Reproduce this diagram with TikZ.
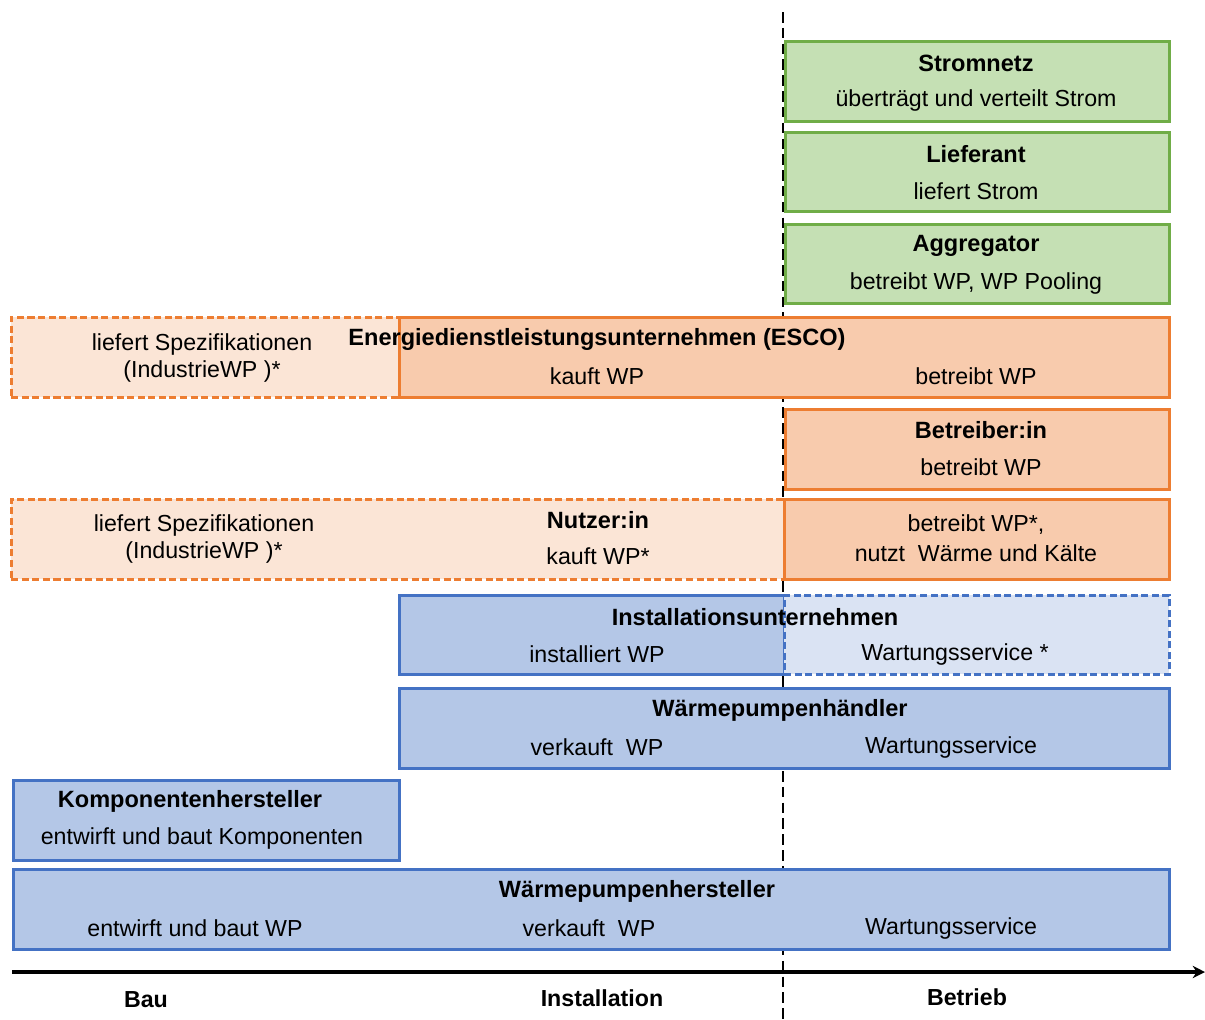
\documentclass[tikz,border=0pt]{standalone}
\usepackage{fontspec}
\setmainfont{Liberation Sans}
\usetikzlibrary{arrows.meta}
\definecolor{grF}{HTML}{C5E0B4}
\definecolor{grD}{HTML}{70AD47}
\definecolor{orF}{HTML}{F8CBAD}
\definecolor{orL}{HTML}{FBE5D6}
\definecolor{orD}{HTML}{ED7D31}
\definecolor{blF}{HTML}{B4C7E7}
\definecolor{blL}{HTML}{DAE3F3}
\definecolor{blD}{HTML}{4472C4}
\tikzset{
  box/.style={draw, line width=1.5pt, inner sep=0pt, anchor=north west},
  greenbox/.style={box, fill=grF, draw=grD},
  orangebox/.style={box, fill=orF, draw=orD},
  orangelight/.style={box, fill=orL, draw=orD, dash pattern=on 4pt off 2pt},
  bluebox/.style={box, fill=blF, draw=blD},
  bluelight/.style={box, fill=blL, draw=blD, dash pattern=on 4pt off 2pt},
  ttl/.style={font=\fontsize{13.4pt}{15pt}\selectfont\bfseries, inner sep=0pt},
  txt/.style={font=\fontsize{13.2pt}{15pt}\selectfont, inner sep=0pt},
  ax/.style={font=\fontsize{13.2pt}{15pt}\selectfont\bfseries, inner sep=0pt},
}
\newcommand{\mybox}[6]{%
  \node[#6, minimum width={(#4-#2)*0.02cm}, minimum height={(#5-#3)*0.02cm}] (#1) at (#2,#3) {};}
\begin{document}
\begin{tikzpicture}[x=0.02cm,y=-0.02cm]
\useasboundingbox (0,0) rectangle (1205,1019);
% timeline separator
\coordinate (vtop) at (783,12);
\coordinate (vbot) at (783,1019);
\draw[line width=1.5pt, dash pattern=on 6pt off 3pt] (vtop) -- (vbot);
% green
\mybox{strom}{784}{40}{1168}{120}{greenbox}
\mybox{lief}{784}{131}{1168}{210}{greenbox}
\mybox{aggr}{784}{223}{1168}{302}{greenbox}
\node[ttl] (stromT) at (976,63) {Stromnetz};
\node[txt] (stromS) at (976,100) {überträgt\ und\ verteilt\ Strom};
\node[ttl] (liefT) at (976,154) {Lieferant};
\node[txt] (liefS) at (976,191) {liefert Strom};
\node[ttl] (aggrT) at (976,246) {Aggregator};
\node[txt] (aggrS) at (976,283) {betreibt WP, WP Pooling};
% ESCO
\mybox{escoL}{10}{316}{398}{396}{orangelight}
\mybox{esco}{398}{316}{1168}{396}{orangebox}
\node[txt] (escoL1) at (202,344) {liefert Spezifikationen};
\node[txt] (escoL2) at (202,371) {(IndustrieWP )*};
\node[ttl] (escoT) at (597,339) {Energiedienstleistungsunternehmen (ESCO)};
\node[txt] (escoS1) at (597,376) {kauft WP};
\node[txt] (escoS2) at (976,376) {betreibt WP};
% Betreiber
\mybox{betr}{784}{408}{1168}{488}{orangebox}
\node[ttl] (betrT) at (981,430) {Betreiber:in};
\node[txt] (betrS) at (981,467) {betreibt WP};
% Nutzer
\mybox{nutzL}{10}{498}{783}{578}{orangelight}
\mybox{nutz}{783}{498}{1168}{578}{orangebox}
\node[txt] (nutzL1) at (204,525) {liefert Spezifikationen};
\node[txt] (nutzL2) at (204,552) {(IndustrieWP )*};
\node[ttl] (nutzT) at (598,520) {Nutzer:in};
\node[txt] (nutzS) at (598,556) {kauft WP*};
\node[txt] (nutzR1) at (976,525) {betreibt WP*,};
\node[txt] (nutzR2) at (976,553) {nutzt\ \ Wärme\ und\ Kälte};
% Installation
\mybox{inst}{398}{594}{783}{673}{bluebox}
\mybox{instR}{783}{594}{1168}{673}{bluelight}
\node[ttl] (instT) at (755,617) {Installationsunternehmen};
\node[txt] (instS1) at (597,654) {installiert WP};
\node[txt] (instS2) at (955,654) {Wartungsservice *};
% Haendler
\mybox{haend}{398}{687}{1168}{767}{bluebox}
\node[ttl] (haendT) at (780,710) {Wärmepumpenhändler};
\node[txt] (haendS1) at (597,747) {verkauft\ \ WP};
\node[txt] (haendS2) at (951,747) {Wartungsservice};
% Komponenten
\mybox{komp}{12}{779}{398}{859}{bluebox}
\node[ttl] (kompT) at (190,801) {Komponentenhersteller};
\node[txt] (kompS) at (202,838) {entwirft\ und\ baut Komponenten};
% Hersteller
\mybox{herst}{12}{868}{1168}{948}{bluebox}
\node[ttl] (herstT) at (637,891) {Wärmepumpenhersteller};
\node[txt] (herstS1) at (195,928) {entwirft\ und\ baut WP};
\node[txt] (herstS2) at (589,928) {verkauft\ \ WP};
\node[txt] (herstS3) at (951,928) {Wartungsservice};
% axis
\coordinate (axL) at (12,972);
\coordinate (axR) at (1205,972);
\draw[line width=1.8pt, -{Stealth[length=7pt,width=7pt]}] (axL) -- (axR);
\node[ax] (bau) at (146,1000) {Bau};
\node[ax] (inst2) at (602,998) {Installation};
\node[ax] (betrieb) at (967,997) {Betrieb};
\end{tikzpicture}
\end{document}
